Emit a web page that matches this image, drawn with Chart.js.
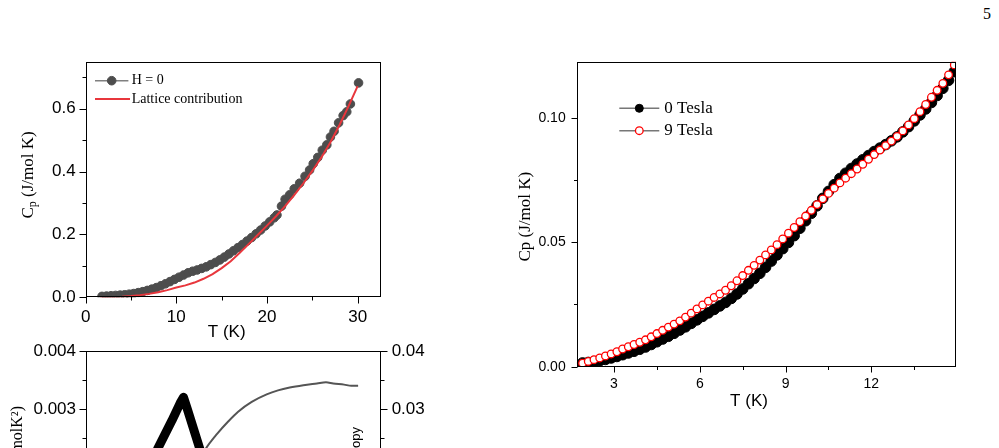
<!DOCTYPE html>
<html>
<head>
<meta charset="utf-8">
<title>Heat capacity</title>
<script src="https://cdn.jsdelivr.net/npm/chart.js@4.4.1/dist/chart.umd.min.js"></script>
<style>
  html, body { margin: 0; padding: 0; background: #fff; }
  body { width: 999px; height: 448px; overflow: hidden; position: relative; }
  .panel { position: absolute; }
  #page { position: absolute; left: 983px; top: 5px; font: 16px "Liberation Serif", serif; }
</style>
</head>
<body>
<div id="page">5</div>
<div class="panel" style="left:0;top:40px;width:400px;height:305px"><canvas id="cpChart"></canvas></div>
<div class="panel" style="left:0;top:330px;width:440px;height:302px"><canvas id="magChart"></canvas></div>
<div class="panel" style="left:505px;top:40px;width:494px;height:380px"><canvas id="fieldChart"></canvas></div>
<script>
// top left: Cp(T) in zero field and the lattice part
var cpT = [1.8, 2.3, 2.8, 3.3, 3.8, 4.3, 4.8, 5.3, 5.8, 6.3, 6.8, 7.3, 7.8, 8.3, 8.8, 9.3, 9.8, 10.3, 10.8, 11.3,
  11.8, 12.3, 12.8, 13.3, 13.8, 14.3, 14.8, 15.3, 15.8, 16.3, 16.8, 17.3, 17.8, 18.3, 18.8, 19.3, 19.8, 20.3, 20.8,
  21.1, 21.6, 22.0, 22.5, 23.0, 23.6, 24.2, 24.7, 25.1, 25.6, 26.1, 26.6, 27.0, 27.4, 27.9, 28.4, 28.8, 29.2, 30.1];
var cpH0 = [0.003, 0.004, 0.005, 0.006, 0.007, 0.008, 0.010, 0.012, 0.015, 0.018, 0.022, 0.026, 0.031, 0.037, 0.043, 0.050, 0.057, 0.064, 0.071, 0.078,
  0.083, 0.087, 0.092, 0.097, 0.104, 0.111, 0.119, 0.128, 0.138, 0.148, 0.158, 0.168, 0.179, 0.190, 0.202, 0.214, 0.227, 0.240, 0.253,
  0.262, 0.290, 0.312, 0.326, 0.345, 0.363, 0.385, 0.405, 0.425, 0.445, 0.468, 0.485, 0.510, 0.528, 0.555, 0.578, 0.590, 0.615, 0.682];
var latT = [1.6, 2, 3, 4, 5, 6, 7, 8, 9, 10, 11, 12, 13, 14, 15, 16, 17, 18, 19, 20, 21, 22, 23, 24, 25, 26, 27, 28, 29, 30];
var latCp = [0, 0.0003, 0.001, 0.002, 0.004, 0.007, 0.011, 0.016, 0.023, 0.031, 0.038, 0.047, 0.059, 0.074, 0.093, 0.115, 0.142, 0.170, 0.199, 0.228,
  0.258, 0.290, 0.325, 0.362, 0.402, 0.445, 0.493, 0.548, 0.608, 0.672];
var cpXTicks = [0, 10, 20, 30];
var cpXMinor = [5, 15, 25];
var cpYTicks = [0, 0.2, 0.4, 0.6];
var cpYMinor = [0.1, 0.3, 0.5, 0.7];

// bottom left (cut off by the page): Cmag/T peak and entropy
var magT = [2, 4, 6, 7.86, 9.5, 10.4, 10.77, 11.2, 12.6, 14, 16, 20, 25, 30];
var magCT = [0.0004, 0.0011, 0.0018, 0.00229, 0.0028, 0.0031, 0.0032, 0.00299, 0.00229, 0.0016, 0.0009, 0.0005, 0.0003, 0.0002];
var entT = [8, 10, 12, 13.15, 14.5, 15.7, 16.8, 18.3, 19.95, 21.2, 22.5, 24, 25.5, 26.5, 27.3, 28.5, 29.3, 30.05];
var entS = [0.003, 0.0115, 0.0195, 0.0229, 0.0257, 0.0278, 0.0295, 0.0312, 0.0325, 0.0332, 0.0337, 0.0341, 0.0344, 0.0346, 0.0344, 0.0342, 0.034, 0.034];
var magYTicks = [0, 0.001, 0.002, 0.003, 0.004];
var magYMinor = [0.0005, 0.0015, 0.0025, 0.0035];
var entYTicks = [0, 0.01, 0.02, 0.03, 0.04];
var entYMinor = [0.005, 0.015, 0.025, 0.035];

// right: 0 T and 9 T
var fieldT = [1.9, 2.1, 2.3, 2.5, 2.7, 2.9, 3.1, 3.3, 3.5, 3.7, 3.9, 4.1, 4.3, 4.5, 4.7, 4.9, 5.1, 5.3, 5.5, 5.7,
  5.9, 6.1, 6.3, 6.5, 6.7, 6.9, 7.1, 7.3, 7.5, 7.7, 7.9, 8.1, 8.3, 8.5, 8.7, 8.9, 9.1, 9.3, 9.5, 9.7,
  9.9, 10.1, 10.3, 10.5, 10.7, 10.9, 11.1, 11.3, 11.5, 11.7, 11.9, 12.1, 12.3, 12.5, 12.7, 12.9, 13.1, 13.3, 13.5, 13.7,
  13.9, 14.1, 14.3, 14.5, 14.7, 14.9];
var tesla0 = [0.0015, 0.0017, 0.0020, 0.0024, 0.0029, 0.0035, 0.0041, 0.0048, 0.0055, 0.0062,
  0.0070, 0.0079, 0.0089, 0.0100, 0.0111, 0.0122, 0.0134, 0.0147, 0.0160, 0.0174,
  0.0188, 0.0202, 0.0216, 0.0230, 0.0244, 0.0258, 0.0274, 0.0292, 0.0312, 0.0333,
  0.0354, 0.0375, 0.0399, 0.0424, 0.0449, 0.0474, 0.0499, 0.0526, 0.0556, 0.0586,
  0.0616, 0.0646, 0.0676, 0.0704, 0.0731, 0.0756, 0.0777, 0.0796, 0.0814, 0.0831,
  0.0848, 0.0864, 0.0878, 0.0892, 0.0907, 0.0923, 0.0943, 0.0964, 0.0987, 0.1011,
  0.1035, 0.1061, 0.1089, 0.1118, 0.1150, 0.1185];
var tesla9 = [0.0014, 0.0021, 0.0028, 0.0035, 0.0043, 0.0051, 0.0060, 0.0071, 0.0080, 0.0089,
  0.0098, 0.0108, 0.0120, 0.0133, 0.0146, 0.0159, 0.0171, 0.0184, 0.0199, 0.0215,
  0.0232, 0.0248, 0.0263, 0.0278, 0.0292, 0.0307, 0.0325, 0.0345, 0.0366, 0.0387,
  0.0407, 0.0428, 0.0449, 0.0469, 0.0490, 0.0513, 0.0536, 0.0559, 0.0582, 0.0605,
  0.0628, 0.0651, 0.0674, 0.0696, 0.0717, 0.0738, 0.0757, 0.0775, 0.0794, 0.0813,
  0.0833, 0.0852, 0.0870, 0.0888, 0.0906, 0.0925, 0.0947, 0.0971, 0.0996, 0.1024,
  0.1053, 0.1082, 0.1110, 0.1138, 0.1172, 0.1212];
var fieldXTicks = [3, 6, 9, 12];
var fieldXMinor = [4.5, 7.5, 10.5, 13.5];
var fieldYTicks = [0, 0.05, 0.1];
var fieldYMinor = [0.025, 0.075];

var serif = '"Liberation Serif", "Times New Roman", serif';
var sans = '"Liberation Sans", Arial, sans-serif';

function points(xs, ys) {
  return xs.map(function (x, i) { return { x: x, y: ys[i] }; });
}

function axis(o) {
  return {
    type: 'linear', position: o.position, min: o.min, max: o.max, display: true,
    afterFit: function (s) { if (s.isHorizontal()) s.height = o.size; else s.width = o.size; },
    afterBuildTicks: function (s) { s.ticks = o.ticks.map(function (v) { return { value: v }; }); },
    grid: { display: false, drawTicks: false },
    border: { display: false },
    ticks: {
      color: '#000', font: { family: sans, size: o.fontSize }, padding: o.pad,
      maxRotation: 0, autoSkip: false,
      callback: function (v) { return v.toFixed(o.digits); }
    }
  };
}

// frame, outward tick marks, legend and axis titles
var decor = {
  id: 'decor',
  afterDraw: function (chart, args, o) {
    var ctx = chart.ctx, a = chart.chartArea;
    var l = Math.round(a.left) + 0.5, t = Math.round(a.top) + 0.5;
    var r = Math.round(a.right) - 0.5, b = Math.round(a.bottom) - 0.5;
    ctx.save();
    ctx.strokeStyle = '#000';
    ctx.lineWidth = 1;
    ctx.strokeRect(l, t, r - l, b - t);
    (o.ticks || []).forEach(function (tk) {
      var s = chart.scales[tk.axis];
      ctx.beginPath();
      tk.values.forEach(function (v) {
        var p = Math.round(s.getPixelForValue(v)) + 0.5;
        if (tk.side === 'bottom') { ctx.moveTo(p, b); ctx.lineTo(p, b + tk.len); }
        else if (tk.side === 'left') { ctx.moveTo(l, p); ctx.lineTo(l - tk.len, p); }
        else { ctx.moveTo(r, p); ctx.lineTo(r + tk.len, p); }
      });
      ctx.stroke();
    });
    (o.legend || []).forEach(function (e) {
      ctx.strokeStyle = e.line;
      ctx.lineWidth = e.lineWidth;
      ctx.beginPath(); ctx.moveTo(e.x0, e.y); ctx.lineTo(e.x1, e.y); ctx.stroke();
      if (e.r) {
        ctx.beginPath();
        ctx.arc((e.x0 + e.x1) / 2, e.y, e.r, 0, 2 * Math.PI);
        ctx.fillStyle = e.fill; ctx.fill();
        ctx.lineWidth = e.mlw || 1; ctx.strokeStyle = e.stroke; ctx.stroke();
      }
      ctx.fillStyle = '#000';
      ctx.font = e.font;
      ctx.textAlign = 'left';
      ctx.textBaseline = 'middle';
      ctx.fillText(e.text, e.tx, e.y);
    });
    (o.texts || []).forEach(function (e) {
      var parts = e.parts || [{ text: e.text, font: e.font, dy: 0 }];
      ctx.save();
      ctx.translate(e.x, e.y);
      ctx.rotate(e.rot || 0);
      ctx.fillStyle = '#000';
      ctx.textAlign = 'left';
      ctx.textBaseline = e.baseline || 'middle';
      var w = 0;
      parts.forEach(function (p) { ctx.font = p.font; w += ctx.measureText(p.text).width; });
      var x = e.align === 'right' ? -w : (e.align === 'left' ? 0 : -w / 2);
      parts.forEach(function (p) {
        ctx.font = p.font;
        ctx.fillText(p.text, x, p.dy || 0);
        x += ctx.measureText(p.text).width;
      });
      ctx.restore();
    });
    ctx.restore();
  }
};

Chart.register(decor);

new Chart('cpChart', {
  type: 'scatter',
  data: {
    datasets: [{
      label: 'Lattice contribution',
      data: points(latT, latCp),
      showLine: true, borderColor: '#e8363c', borderWidth: 2, pointRadius: 0, order: 0
    }, {
      label: 'H = 0',
      data: points(cpT, cpH0),
      showLine: false, pointRadius: 4.3, pointBackgroundColor: '#4d4d4d', pointBorderColor: '#4d4d4d', order: 1
    }]
  },
  options: {
    responsive: true, maintainAspectRatio: false, animation: false,
    layout: { padding: { top: 21.67, right: 19.33, left: 0, bottom: 0 } },
    plugins: {
      legend: { display: false }, tooltip: { enabled: false },
      decor: {
        ticks: [
          { axis: 'x', side: 'bottom', len: 7, values: cpXTicks },
          { axis: 'x', side: 'bottom', len: 4, values: cpXMinor },
          { axis: 'y', side: 'left', len: 7, values: cpYTicks },
          { axis: 'y', side: 'left', len: 4, values: cpYMinor }
        ],
        legend: [
          { y: 40.7, x0: 95, x1: 128.4, tx: 131.7, line: '#808080', lineWidth: 1.5, r: 4.3, fill: '#4d4d4d', stroke: '#4d4d4d', text: 'H = 0', font: '14px ' + serif },
          { y: 59, x0: 95, x1: 130, tx: 131.7, line: '#e8363c', lineWidth: 2, text: 'Lattice contribution', font: '14px ' + serif }
        ],
        texts: [
          { x: 29, y: 135, rot: -Math.PI / 2, parts: [
            { text: 'C', font: '17px ' + serif },
            { text: 'p', font: '12px ' + serif, dy: 4 },
            { text: ' (J/mol K)', font: '17px ' + serif }] },
          { x: 226.7, y: 292.7, text: 'T (K)', font: '17px ' + sans }
        ]
      }
    },
    scales: {
      x: axis({ position: 'bottom', min: 0, max: 32.54, size: 47.67, ticks: cpXTicks, fontSize: 17, pad: 10, digits: 0 }),
      y: axis({ position: 'left', min: 0, max: 0.7495, size: 85.67, ticks: cpYTicks, fontSize: 17, pad: 10, digits: 1 })
    }
  }
});

new Chart('magChart', {
  type: 'scatter',
  data: {
    datasets: [{
      label: 'Cmag/T',
      data: points(magT, magCT), yAxisID: 'y',
      showLine: true, borderColor: '#000', borderWidth: 9, pointRadius: 0, borderJoinStyle: 'round'
    }, {
      label: 'Entropy',
      data: points(entT, entS), yAxisID: 'y2',
      showLine: true, borderColor: '#555', borderWidth: 2, pointRadius: 0, cubicInterpolationMode: 'monotone'
    }]
  },
  options: {
    responsive: true, maintainAspectRatio: false, animation: false,
    layout: { padding: { top: 18.33, right: 0, left: 0, bottom: 0 } },
    plugins: {
      legend: { display: false }, tooltip: { enabled: false },
      decor: {
        ticks: [
          { axis: 'x', side: 'bottom', len: 7, values: cpXTicks },
          { axis: 'x', side: 'bottom', len: 4, values: cpXMinor },
          { axis: 'y', side: 'left', len: 7, values: magYTicks },
          { axis: 'y', side: 'left', len: 4, values: magYMinor },
          { axis: 'y2', side: 'right', len: 7, values: entYTicks },
          { axis: 'y2', side: 'right', len: 4, values: entYMinor }
        ],
        texts: [
          { x: 21.5, y: 76, rot: -Math.PI / 2, align: 'right', baseline: 'alphabetic', text: 'Cmag/T (J/molK\u00b2)', font: '16px ' + serif },
          { x: 360, y: 97, rot: -Math.PI / 2, align: 'right', baseline: 'alphabetic', text: 'Entropy', font: '13px ' + sans }
        ]
      }
    },
    scales: {
      x: axis({ position: 'bottom', min: 0, max: 32.54, size: 50.33, ticks: cpXTicks, fontSize: 17, pad: 10, digits: 0 }),
      y: axis({ position: 'left', min: 0, max: 0.004, size: 86, ticks: magYTicks, fontSize: 17, pad: 10, digits: 3 }),
      y2: axis({ position: 'right', min: 0, max: 0.04, size: 59.33, ticks: entYTicks, fontSize: 17, pad: 11, digits: 2 })
    }
  }
});

new Chart('fieldChart', {
  type: 'scatter',
  data: {
    datasets: [{
      label: '9 Tesla',
      data: points(fieldT, tesla9),
      showLine: false, pointRadius: 3.8, pointBorderWidth: 1.3,
      pointBackgroundColor: '#fff', pointBorderColor: '#ff0000', order: 0
    }, {
      label: '0 Tesla',
      data: points(fieldT, tesla0),
      showLine: false, pointRadius: 5.3, pointBackgroundColor: '#000', pointBorderColor: '#000', order: 1
    }]
  },
  options: {
    responsive: true, maintainAspectRatio: false, animation: false,
    layout: { padding: { top: 21.67, right: 43, left: 0, bottom: 0 } },
    plugins: {
      legend: { display: false }, tooltip: { enabled: false },
      decor: {
        ticks: [
          { axis: 'x', side: 'bottom', len: 6, values: fieldXTicks },
          { axis: 'x', side: 'bottom', len: 3.5, values: fieldXMinor },
          { axis: 'y', side: 'left', len: 6, values: fieldYTicks },
          { axis: 'y', side: 'left', len: 3.5, values: fieldYMinor }
        ],
        legend: [
          { y: 68.3, x0: 114.3, x1: 154.3, tx: 159.3, line: '#777', lineWidth: 1.5, r: 4, fill: '#000', stroke: '#000', text: '0 Tesla', font: '17px ' + serif },
          { y: 90.7, x0: 114.3, x1: 154.3, tx: 159.3, line: '#777', lineWidth: 1.5, r: 3.8, fill: '#fff', stroke: '#ff0000', mlw: 1.3, text: '9 Tesla', font: '17px ' + serif }
        ],
        texts: [
          { x: 21, y: 176.7, rot: -Math.PI / 2, text: 'Cp (J/mol K)', font: '17px ' + serif },
          { x: 244, y: 361.7, text: 'T (K)', font: '17px ' + sans }
        ]
      }
    },
    scales: {
      x: axis({ position: 'bottom', min: 1.694, max: 14.96, size: 53.33, ticks: fieldXTicks, fontSize: 14, pad: 9, digits: 0 }),
      y: axis({ position: 'left', min: 0, max: 0.1225, size: 71.67, ticks: fieldYTicks, fontSize: 14, pad: 11, digits: 2 })
    }
  }
});
</script>
</body>
</html>
